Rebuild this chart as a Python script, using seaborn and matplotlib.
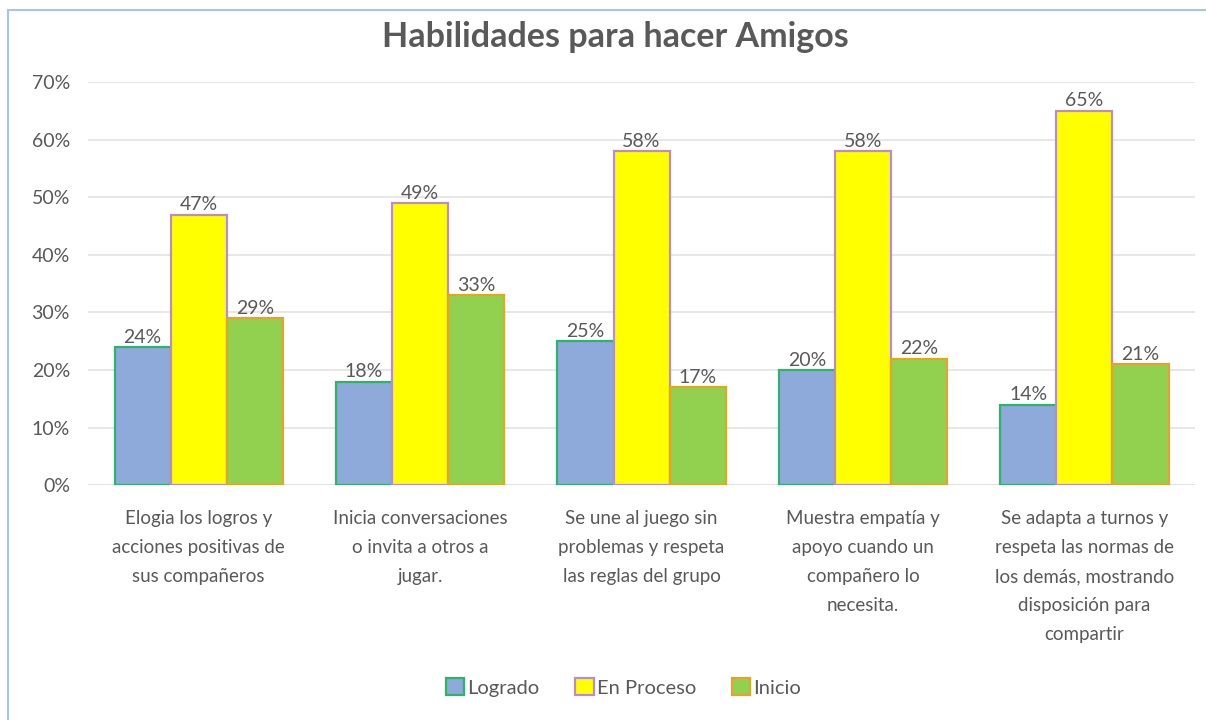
import pandas as pd
import matplotlib
matplotlib.use('Agg')
import matplotlib.pyplot as plt
import seaborn as sns
from matplotlib.patches import Rectangle, Patch

# data
categories = [
    "Elogia los logros y\nacciones positivas de\nsus compañeros",
    "Inicia conversaciones\no invita a otros a\njugar.",
    "Se une al juego sin\nproblemas y respeta\nlas reglas del grupo",
    "Muestra empatía y\napoyo cuando un\ncompañero lo\nnecesita.",
    "Se adapta a turnos y\nrespeta las normas de\nlos demás, mostrando\ndisposición para\ncompartir",
]
series = ["Logrado", "En Proceso", "Inicio"]
logrado = [0.24, 0.18, 0.25, 0.20, 0.14]
en_proceso = [0.47, 0.49, 0.58, 0.58, 0.65]
inicio = [0.29, 0.33, 0.17, 0.22, 0.21]

fills = ["#8eaadb", "#ffff00", "#92d050"]
edges = ["#2fb36a", "#b98ad8", "#e3a526"]

rows = []
for name, vals in zip(series, [logrado, en_proceso, inicio]):
    for c, v in zip(categories, vals):
        rows.append({"cat": c, "serie": name, "valor": v})
df = pd.DataFrame(rows)

sns.set_theme(style="white")
plt.rcParams['font.family'] = ['Lato', 'DejaVu Sans']

fig = plt.figure(figsize=(12.06, 7.2), dpi=100)
ax = fig.add_axes([0.073, 0.326, 0.918, 0.560])

sns.barplot(data=df, x="cat", y="valor", hue="serie", hue_order=series,
            palette=fills, saturation=1, width=0.76, gap=0, legend=False, ax=ax)

for cont, ec in zip(ax.containers, edges):
    for bar in cont:
        bar.set_edgecolor(ec)
        bar.set_linewidth(1.6)
    ax.bar_label(cont, labels=[f"{b.get_height()*100:.0f}%" for b in cont],
                 padding=1, fontsize=14, color="#595959")

ax.set_ylim(0, 0.7)
ax.set_yticks([i / 10 for i in range(8)])
ax.set_yticklabels([f"{i*10}%" for i in range(8)], fontsize=14, color="#595959")
ax.tick_params(axis='x', labelsize=13.5, colors="#595959", pad=18, length=0)
ax.tick_params(axis='y', length=0, pad=13)
for lbl in ax.get_xticklabels():
    lbl.set_verticalalignment('top')
    lbl.set_linespacing(1.85)
ax.yaxis.grid(True, color="#e3e3e3", linewidth=1.2)
ax.set_axisbelow(True)
for s in ax.spines.values():
    s.set_visible(False)
ax.axhline(0, color="#d9d9d9", linewidth=1.2, zorder=0.5)
ax.set_xlabel("")
ax.set_ylabel("")

fig.text(0.510, 0.948, "Habilidades para hacer Amigos", ha="center", va="center",
         fontsize=24.5, fontweight="bold", color="#595959")

handles = [Patch(facecolor=f, edgecolor=e, linewidth=1.6, label=s)
           for f, e, s in zip(fills, edges, series)]
fig.legend(handles=handles, loc="center", bbox_to_anchor=(0.517, 0.045), ncol=3,
           frameon=False, fontsize=14.5, handlelength=0.9, handleheight=0.9,
           handletextpad=0.15, columnspacing=1.8, labelcolor="#595959")

fig.patches.append(Rectangle((0.007, -0.01), 1.0, 0.996, transform=fig.transFigure,
                             fill=False, edgecolor="#a9c4eb", linewidth=1.5))

plt.savefig("out.png", dpi=100)
plt.close()
